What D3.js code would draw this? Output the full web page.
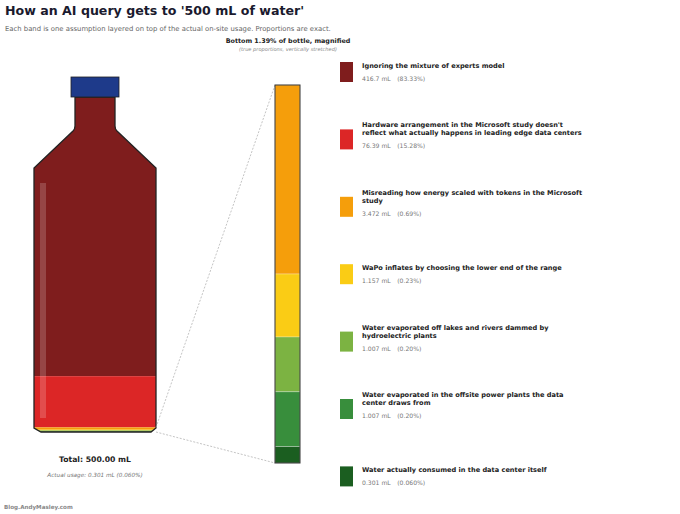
<!DOCTYPE html>
<html>
<head>
<meta charset="utf-8">
<script src="https://cdn.jsdelivr.net/npm/d3@7"></script>
<style>
  body { margin: 0; background: #fff; }
  text { font-family: "DejaVu Sans", sans-serif; }
</style>
</head>
<body>
<div id="chart"></div>
<script>
var svgWidth = 680;
var svgHeight = 514;

// Bands, top of the bottle first
var bandLabels = [
  "Ignoring the mixture of experts model",
  "Hardware arrangement in the Microsoft study doesn't|reflect what actually happens in leading edge data centers",
  "Misreading how energy scaled with tokens in the Microsoft|study",
  "WaPo inflates by choosing the lower end of the range",
  "Water evaporated off lakes and rivers dammed by|hydroelectric plants",
  "Water evaporated in the offsite power plants the data|center draws from",
  "Water actually consumed in the data center itself"
];
var bandValues = [416.7, 76.39, 3.472, 1.157, 1.007, 1.007, 0.301];
var bandValueText = ["416.7 mL", "76.39 mL", "3.472 mL", "1.157 mL", "1.007 mL", "1.007 mL", "0.301 mL"];
var bandPctText = ["(83.33%)", "(15.28%)", "(0.69%)", "(0.23%)", "(0.20%)", "(0.20%)", "(0.060%)"];
var bandColors = ["#7f1d1d", "#dc2626", "#f59e0b", "#facc15", "#7cb342", "#388e3c", "#1b5e20"];

var bottleTotal = 500;
var magnifiedCount = 5; // the bottom five bands go in the magnified bar

var svg = d3.select("#chart")
  .append("svg")
  .attr("width", svgWidth)
  .attr("height", svgHeight);

// Titles
svg.append("text")
  .attr("x", 5).attr("y", 15)
  .attr("font-size", 12.6).attr("font-weight", "bold").attr("fill", "#1a1a2e")
  .text("How an AI query gets to '500 mL of water'");

svg.append("text")
  .attr("x", 5).attr("y", 31)
  .attr("font-size", 6.85).attr("fill", "#666")
  .text("Each band is one assumption layered on top of the actual on-site usage. Proportions are exact.");

// Stack from the bottom
var stacked = [];
var acc = 0;
for (var i = bandValues.length - 1; i >= 0; i--) {
  stacked[i] = { y0: acc, y1: acc + bandValues[i], color: bandColors[i] };
  acc += bandValues[i];
}

// Bottle
var yBottle = d3.scaleLinear().domain([0, bottleTotal]).range([432, 97]);
var bx0 = 34, bx1 = 156;
var neck0 = 75, neck1 = 115;

var bottlePath = d3.path();
bottlePath.moveTo(neck0, 97);
bottlePath.lineTo(neck0, 126);
bottlePath.quadraticCurveTo(neck0, 129, neck0 - 2, 131);
bottlePath.lineTo(bx0, 168);
bottlePath.lineTo(bx0, 428);
bottlePath.lineTo(bx0 + 7, 432);
bottlePath.lineTo(bx1 - 5, 432);
bottlePath.lineTo(bx1, 428);
bottlePath.lineTo(bx1, 168);
bottlePath.lineTo(neck1 + 2, 131);
bottlePath.quadraticCurveTo(neck1, 129, neck1, 126);
bottlePath.lineTo(neck1, 97);
bottlePath.closePath();

svg.append("clipPath").attr("id", "bottleClip")
  .append("path").attr("d", bottlePath.toString());

svg.append("g").attr("clip-path", "url(#bottleClip)")
  .selectAll("rect")
  .data(stacked)
  .enter()
  .append("rect")
  .attr("x", bx0 - 2)
  .attr("width", bx1 - bx0 + 4)
  .attr("y", d => yBottle(d.y1))
  .attr("height", d => yBottle(d.y0) - yBottle(d.y1))
  .attr("fill", d => d.color);

svg.append("path")
  .attr("d", bottlePath.toString())
  .attr("fill", "none")
  .attr("stroke", "#222")
  .attr("stroke-width", 1.3);

// highlight
svg.append("rect")
  .attr("x", 40).attr("y", 183).attr("width", 6).attr("height", 235)
  .attr("fill", "#fff").attr("opacity", 0.18);

// cap
svg.append("rect")
  .attr("x", 71).attr("y", 77).attr("width", 48).attr("height", 20)
  .attr("fill", "#1e3a8a").attr("stroke", "#222").attr("stroke-width", 0.8);

svg.append("text")
  .attr("x", 95).attr("y", 462).attr("text-anchor", "middle")
  .attr("font-size", 7.7).attr("font-weight", "bold").attr("fill", "#222")
  .text("Total: " + d3.format(".2f")(bottleTotal) + " mL");

svg.append("text")
  .attr("x", 95).attr("y", 477).attr("text-anchor", "middle")
  .attr("font-size", 5.7).attr("font-style", "italic").attr("fill", "#777")
  .text("Actual usage: 0.301 mL (0.060%)");

// Magnified bar
var magData = stacked.slice(bandValues.length - magnifiedCount);
var magTotal = d3.sum(bandValues.slice(bandValues.length - magnifiedCount));
var yMag = d3.scaleLinear().domain([0, magTotal]).range([463, 85]);
var mx = 275, mw = 25;

svg.append("text")
  .attr("x", 288).attr("y", 43).attr("text-anchor", "middle")
  .attr("font-size", 6.4).attr("font-weight", "bold").attr("fill", "#222")
  .text("Bottom " + d3.format(".2f")(magTotal / bottleTotal * 100) + "% of bottle, magnified");

svg.append("text")
  .attr("x", 288).attr("y", 51).attr("text-anchor", "middle")
  .attr("font-size", 5.1).attr("font-style", "italic").attr("fill", "#888")
  .text("(true proportions, vertically stretched)");

// connectors
var connectors = [
  [bx1, yBottle(magTotal), mx, yMag(magTotal)],
  [bx1, yBottle(0), mx, yMag(0)]
];
svg.selectAll("line.conn")
  .data(connectors)
  .enter()
  .append("line")
  .attr("class", "conn")
  .attr("x1", d => d[0]).attr("y1", d => d[1])
  .attr("x2", d => d[2]).attr("y2", d => d[3])
  .attr("stroke", "#aaa").attr("stroke-width", 0.7)
  .attr("stroke-dasharray", "2,1.5");

svg.append("g").selectAll("rect")
  .data(magData)
  .enter()
  .append("rect")
  .attr("x", mx)
  .attr("width", mw)
  .attr("y", d => yMag(d.y1))
  .attr("height", d => yMag(d.y0) - yMag(d.y1))
  .attr("fill", d => d.color)
  .attr("stroke", "#fff")
  .attr("stroke-opacity", 0.35)
  .attr("stroke-width", 0.8);

svg.append("rect")
  .attr("x", mx).attr("y", yMag(magTotal))
  .attr("width", mw).attr("height", yMag(0) - yMag(magTotal))
  .attr("fill", "none").attr("stroke", "#333").attr("stroke-width", 1);

// Legend
var legend = svg.append("g").selectAll("g")
  .data(bandLabels)
  .enter()
  .append("g")
  .attr("transform", (d, i) => `translate(340, ${72 + i * 67.4})`);

legend.append("rect")
  .attr("x", 0).attr("y", -10).attr("width", 13).attr("height", 20)
  .attr("fill", (d, i) => bandColors[i]);

legend.each(function(d, i) {
  var g = d3.select(this);
  var lines = d.split("|");
  var valueY = 9;
  var lastTitleY = valueY - 13;
  lines.forEach(function(line, j) {
    g.append("text")
      .attr("x", 22)
      .attr("y", lastTitleY - (lines.length - 1 - j) * 8)
      .attr("font-size", 6.6).attr("font-weight", "bold").attr("fill", "#222")
      .text(line);
  });
  var t = g.append("text")
    .attr("x", 22).attr("y", valueY)
    .attr("font-size", 6.1).attr("fill", "#777");
  t.append("tspan").text(bandValueText[i]);
  t.append("tspan").attr("dx", 6.5).text(bandPctText[i]);
});

svg.append("text")
  .attr("x", 4).attr("y", 509)
  .attr("font-size", 5.6).attr("font-weight", "bold").attr("fill", "#888")
  .text("Blog.AndyMasley.com");
</script>
</body>
</html>
